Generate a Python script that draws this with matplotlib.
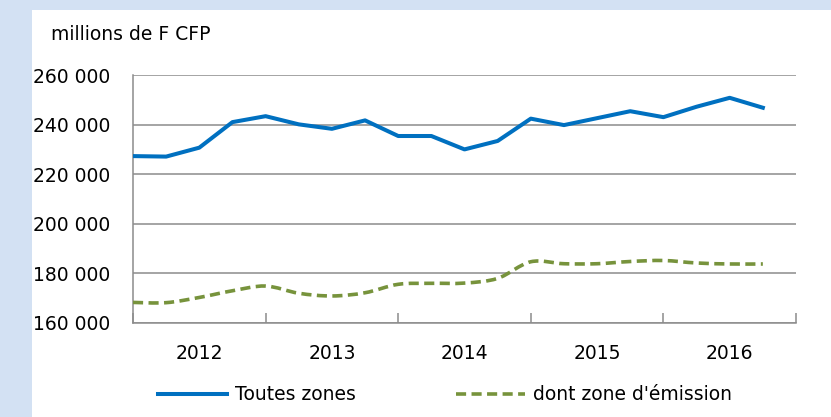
import matplotlib.pyplot as plt
from matplotlib.path import Path
from matplotlib.patches import PathPatch, Rectangle
from matplotlib.lines import Line2D

# quarterly data, 2012 Q1 -> 2016 Q4 (millions de F CFP)
years = ['2012', '2013', '2014', '2015', '2016']
toutes_zones = [227300, 227100, 230700, 241000, 243400, 240100, 238300, 241700,
                235400, 235400, 230000, 233400, 242400, 239800, 242600, 245400,
                243000, 247200, 250800, 246800]
zone_emission = [168300, 168200, 170300, 173000, 174900, 172000, 170900, 172200,
                 175600, 176000, 176100, 178000, 184700, 183900, 183900, 184800,
                 185200, 184200, 183800, 183800]
y_ticks = [160000, 180000, 200000, 220000, 240000, 260000]

BLUE = '#0070C0'
GREEN = '#77933C'
GRID = '#8C8C8C'
FONT = 'DejaVu Sans'
FS = 13.5
DPI = 100

plt.rcParams['font.family'] = FONT

fig = plt.figure(figsize=(8.31, 4.17), dpi=DPI)
fig.patch.set_facecolor('#D3E1F3')
# white panel
fig.patches.append(Rectangle((32 / 831, 0), 1, 1 - 10 / 417, transform=fig.transFigure,
                             facecolor='white', edgecolor='none', zorder=-1))

ax = fig.add_axes([133 / 831, 1 - 323 / 417, 663 / 831, 248 / 417])
ax.set_facecolor('none')

n = len(toutes_zones)
x = list(range(n))

ax.plot(x, toutes_zones, color=BLUE, lw=2.9, solid_joinstyle='round', zorder=3)


def smooth_path(xs, ys):
    # cubic bezier through the points (Excel-style smoothed line)
    pts = list(zip(xs, ys))
    verts = [pts[0]]
    codes = [Path.MOVETO]
    for i in range(len(pts) - 1):
        p0 = pts[i - 1] if i > 0 else pts[i]
        p1 = pts[i]
        p2 = pts[i + 1]
        p3 = pts[i + 2] if i + 2 < len(pts) else pts[i + 1]
        c1 = (p1[0] + (p2[0] - p0[0]) / 6, p1[1] + (p2[1] - p0[1]) / 6)
        c2 = (p2[0] - (p3[0] - p1[0]) / 6, p2[1] - (p3[1] - p1[1]) / 6)
        verts += [c1, c2, p2]
        codes += [Path.CURVE4] * 3
    return Path(verts, codes)


dash = (0, (2.8, 1.5))
ax.add_patch(PathPatch(smooth_path(x, zone_emission), fill=False, edgecolor=GREEN,
                       lw=2.6, linestyle=dash, capstyle='butt', zorder=3))

ax.set_xlim(0, n)
ax.set_ylim(160000, 260000)
ax.set_yticks(y_ticks)
ax.set_yticklabels([f'{v:,}'.replace(',', ' ') for v in y_ticks])
ax.yaxis.grid(True, color=GRID, lw=1.1)
ax.set_axisbelow(True)
ax.tick_params(axis='y', length=0, pad=16.5, labelsize=FS)

ax.set_xticks(range(0, n + 1, 4))
ax.set_xticklabels([])
ax.set_xticks([i + 2 for i in range(0, n, 4)], minor=True)
ax.set_xticklabels(years, minor=True)
ax.tick_params(axis='x', which='major', direction='in', length=7, color=GRID, width=1.1)
ax.tick_params(axis='x', which='minor', length=0, pad=15, labelsize=FS)

for s in ['top', 'right']:
    ax.spines[s].set_visible(False)
for s in ['left', 'bottom']:
    ax.spines[s].set_color(GRID)
    ax.spines[s].set_linewidth(1.1)

fig.text(51 / 831, 1 - 34 / 417, 'millions de F CFP', fontsize=FS, va='center', ha='left')

handles = [Line2D([], [], color=BLUE, lw=2.9),
           Line2D([], [], color=GREEN, lw=2.6, linestyle=dash)]
fig.legend(handles, ['Toutes zones', "dont zone d'émission"], ncol=2, frameon=False,
           loc='center', bbox_to_anchor=(445 / 831, 1 - 395 / 417), fontsize=FS,
           handlelength=3.7, handletextpad=0.45, columnspacing=5.3)

# put the right edge of the y labels at 110 px
fig.canvas.draw()
right = max(t.get_window_extent().x1 for t in ax.get_yticklabels() if t.get_text())
ax.tick_params(axis='y', pad=16.5 + (right - 110) * 72 / DPI)

fig.savefig('out.png', dpi=DPI)
